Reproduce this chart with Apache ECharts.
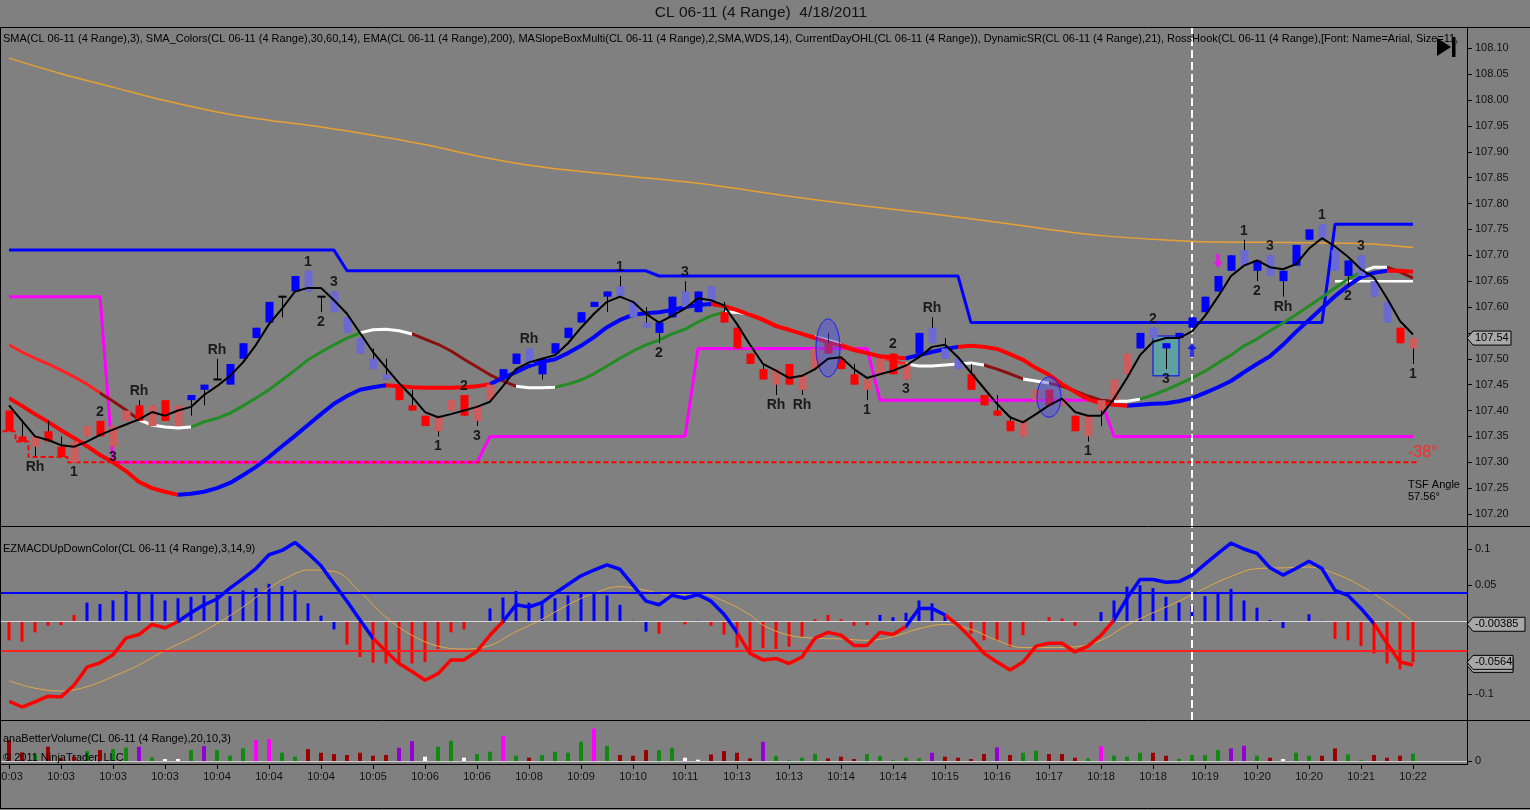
<!DOCTYPE html>
<html><head><meta charset="utf-8">
<script src="https://cdn.jsdelivr.net/npm/echarts@6/dist/echarts.min.js"></script>
<style>html,body{margin:0;padding:0;background:#808080;overflow:hidden}#c{width:1530px;height:810px}</style>
</head><body><div id="c"></div>
<script>
// ---------------- DATA ----------------
const timeLabels = ['10:03','10:03','10:03','10:03','10:04','10:04','10:04','10:05','10:06','10:06','10:08','10:09','10:10','10:11','10:13','10:13','10:14','10:14','10:15','10:16','10:17','10:18','10:18','10:19','10:20','10:20','10:21','10:22'];
const priceTicks = [107.20,107.25,107.30,107.35,107.40,107.45,107.50,107.55,107.60,107.65,107.70,107.75,107.80,107.85,107.90,107.95,108.00,108.05,108.10];
const priceLabels = [107.20,107.25,107.30,107.35,107.40,107.45,107.50,107.60,107.65,107.70,107.75,107.80,107.85,107.90,107.95,108.00,108.05,108.10];
const macdTicks = [0.1,0.05,-0.1];

const barOpen = [107.40,107.35,107.33,107.36,107.33,107.30,107.35,107.38,107.33,107.38,
 107.41,107.37,107.42,107.37,107.42,107.44,107.46,107.45,107.50,107.54,
 107.57,107.62,107.63,107.67,107.62,107.63,107.58,107.54,107.50,107.47,
 107.45,107.41,107.39,107.36,107.40,107.43,107.38,107.42,107.46,107.49,
 107.52,107.47,107.51,107.54,107.57,107.60,107.62,107.64,107.61,107.57,
 107.55,107.58,107.63,107.59,107.64,107.59,107.56,107.51,107.48,107.45,
 107.49,107.44,107.48,107.53,107.50,107.47,107.44,107.47,107.51,107.46,
 107.51,107.56,107.52,107.50,107.47,107.43,107.40,107.38,107.35,107.42,
 107.44,107.41,107.39,107.35,107.40,107.42,107.47,107.52,107.56,107.52,
 107.54,107.56,107.59,107.63,107.67,107.71,107.67,107.70,107.65,107.68,
 107.73,107.76,107.71,107.66,107.70,107.65,107.61,107.56,107.52];
const barClose = [107.36,107.34,107.35,107.34,107.31,107.34,107.37,107.35,107.37,107.40,
 107.38,107.41,107.38,107.41,107.43,107.45,107.46,107.49,107.53,107.56,
 107.61,107.62,107.66,107.63,107.62,107.59,107.55,107.51,107.48,107.46,
 107.42,107.40,107.37,107.39,107.42,107.39,107.41,107.45,107.48,107.51,
 107.49,107.50,107.53,107.56,107.59,107.61,107.63,107.62,107.58,107.56,
 107.57,107.62,107.60,107.63,107.61,107.57,107.52,107.49,107.46,107.48,
 107.45,107.47,107.52,107.51,107.48,107.45,107.46,107.50,107.47,107.49,
 107.55,107.53,107.50,107.48,107.44,107.41,107.39,107.36,107.38,107.44,
 107.41,107.42,107.36,107.39,107.42,107.46,107.51,107.55,107.54,107.53,
 107.55,107.58,107.62,107.66,107.70,107.68,107.69,107.66,107.67,107.72,
 107.75,107.73,107.67,107.69,107.66,107.62,107.57,107.53,107.54];
const barLow = [107.36,107.34,107.31,107.34,107.31,107.30,107.35,107.35,107.33,107.38,
 107.38,107.37,107.38,107.37,107.39,107.41,107.46,107.45,107.50,107.54,
 107.57,107.58,107.63,107.63,107.59,107.59,107.55,107.51,107.48,107.46,
 107.42,107.40,107.37,107.35,107.40,107.39,107.37,107.42,107.46,107.49,
 107.49,107.46,107.51,107.54,107.57,107.60,107.59,107.62,107.58,107.56,
 107.53,107.58,107.60,107.59,107.61,107.57,107.52,107.49,107.46,107.43,
 107.45,107.43,107.48,107.51,107.48,107.45,107.42,107.47,107.47,107.46,
 107.51,107.53,107.50,107.48,107.44,107.41,107.39,107.36,107.35,107.42,
 107.41,107.41,107.36,107.34,107.37,107.42,107.47,107.52,107.54,107.48,
 107.54,107.56,107.59,107.63,107.67,107.68,107.65,107.66,107.62,107.68,
 107.73,107.73,107.67,107.64,107.66,107.62,107.57,107.53,107.49];
const barHigh = [107.40,107.38,107.35,107.38,107.35,107.34,107.37,107.38,107.37,107.40,
 107.42,107.41,107.42,107.41,107.43,107.45,107.50,107.49,107.53,107.56,
 107.61,107.62,107.66,107.67,107.62,107.63,107.58,107.54,107.52,107.50,
 107.45,107.44,107.39,107.39,107.42,107.43,107.41,107.45,107.48,107.51,
 107.52,107.50,107.53,107.56,107.59,107.61,107.63,107.66,107.61,107.60,
 107.57,107.62,107.65,107.63,107.64,107.61,107.56,107.51,107.49,107.48,
 107.49,107.47,107.52,107.55,107.50,107.49,107.46,107.50,107.51,107.49,
 107.55,107.58,107.54,107.50,107.49,107.43,107.43,107.39,107.38,107.44,
 107.44,107.42,107.39,107.39,107.42,107.46,107.51,107.55,107.56,107.53,
 107.55,107.58,107.62,107.66,107.70,107.73,107.69,107.70,107.67,107.72,
 107.75,107.76,107.71,107.69,107.70,107.65,107.61,107.56,107.54];
// B = up bar in uptrend, b = down bar in uptrend, R = down bar in downtrend, r = up bar in downtrend
const barState = 'RRrRRrrRrrRrRr' + 'BBBBBBBBB' + 'bbbbbbb' + 'RRRrrRrr' + 'BBbBBBBBBbbbBBbBb' +
                 'RRRRrRrrRRRrrRr' + 'Bbbb' + 'RRRRrrRrRrrrr' + 'BbBBBBBBbBbBBBbbBbbb' + 'Rr';

const sma3 = [107.41,107.38,107.350,107.343,107.333,107.330,107.340,107.353,107.363,107.373,
 107.383,107.397,107.390,107.400,107.407,107.430,107.447,107.467,107.493,107.527,
 107.567,107.597,107.630,107.637,107.637,107.613,107.587,107.550,107.513,107.483,
 107.453,107.427,107.397,107.387,107.393,107.400,107.407,107.417,107.447,107.480,
 107.493,107.500,107.507,107.530,107.560,107.587,107.610,107.620,107.610,107.587,
 107.570,107.583,107.597,107.617,107.613,107.603,107.567,107.527,107.490,107.477,
 107.463,107.467,107.480,107.500,107.503,107.480,107.463,107.470,107.477,107.487,
 107.503,107.523,107.527,107.503,107.473,107.443,107.413,107.387,107.377,107.393,
 107.410,107.423,107.397,107.390,107.390,107.423,107.463,107.507,107.533,107.540,
 107.540,107.553,107.583,107.620,107.660,107.680,107.690,107.677,107.673,107.683,
 107.713,107.733,107.717,107.697,107.673,107.657,107.617,107.573,107.547];

const smaFast = [107.527,107.513,107.501,107.490,107.478,107.465,107.451,107.434,107.418,107.401,
 107.382,107.372,107.368,107.366,107.368,107.378,107.385,107.395,107.409,107.424,
 107.440,107.459,107.478,107.498,107.513,107.527,107.540,107.550,107.556,107.557,
 107.554,107.548,107.538,107.528,107.515,107.499,107.484,107.469,107.457,107.447,
 107.444,107.444,107.445,107.451,107.459,107.471,107.486,107.501,107.515,107.527,
 107.536,107.548,107.557,107.571,107.583,107.590,107.590,107.586,107.577,107.565,
 107.556,107.548,107.542,107.536,107.528,107.519,107.511,107.503,107.496,107.490,
 107.486,107.486,107.488,107.490,107.492,107.488,107.480,107.471,107.461,107.457,
 107.453,107.447,107.438,107.428,107.420,107.418,107.418,107.422,107.430,107.440,
 107.451,107.463,107.476,107.492,107.507,107.525,107.538,107.554,107.569,107.585,
 107.602,107.619,107.637,107.654,107.668,107.677,107.677,107.668,107.656];
const smaSlow = [107.424,107.409,107.393,107.378,107.362,107.347,107.331,107.314,107.300,107.283,
 107.262,107.250,107.243,107.237,107.239,107.243,107.250,107.260,107.275,107.291,
 107.310,107.331,107.351,107.372,107.393,107.413,107.428,107.440,107.445,107.449,
 107.447,107.445,107.444,107.444,107.444,107.445,107.447,107.451,107.463,107.474,
 107.486,107.494,107.499,107.511,107.525,107.542,107.561,107.575,107.585,107.588,
 107.590,107.594,107.600,107.604,107.606,107.602,107.594,107.585,107.575,107.563,
 107.556,107.548,107.540,107.532,107.525,107.517,107.511,107.505,107.503,107.501,
 107.507,107.513,107.519,107.523,107.525,107.523,107.519,107.509,107.498,107.482,
 107.469,107.451,107.436,107.422,107.414,107.411,107.409,107.411,107.413,107.414,
 107.418,107.424,107.434,107.445,107.457,107.474,107.490,107.505,107.527,107.552,
 107.575,107.598,107.621,107.641,107.658,107.666,107.670,107.670,107.668];
// colour state segments [fromBar, toBar, state]
const smaFastSegments = [[0,7,'dn'],[7,10,'dnSlow'],[10,14,'flat'],[14,27,'up'],[27,31,'flat'],[31,39,'dnSlow'],[39,42,'flat'],[42,55,'up'],[55,57,'flat'],[57,62,'dn'],[62,64,'flat'],[64,69,'dn'],[69,75,'flat'],[75,78,'dnSlow'],[78,80,'flat'],[80,85,'dnSlow'],[85,87,'flat'],[87,104,'up'],[104,106,'flat'],[106,120,'dnSlow']];
const smaSlowSegments = [[0,13,'dn'],[13,29,'up'],[29,37,'dn'],[37,54,'up'],[54,69,'dn'],[69,73,'up'],[73,86,'dn'],[86,106,'up'],[106,120,'dn']];

const ema200 = [[0,108.081],[4,108.051],[8,108.025],[12,107.999],[16,107.977],[20,107.961],[24,107.948],[28,107.932],[32,107.914],[36,107.892],[40,107.874],[44,107.862],[48,107.852],[52,107.842],[56,107.829],[60,107.814],[64,107.801],[68,107.789],[72,107.777],[76,107.764],[80,107.750],[84,107.738],[88,107.731],[92,107.726],[96,107.725],[100,107.724],[104,107.723],[108,107.715]];

// [fromBar, toBar, price]
const resistanceLevels = [[0,25,107.71],[26,49,107.67],[50,73,107.66],[74,101,107.57],[102,108,107.76]];
const supportLevels = [[0,7,107.62],[8,36,107.30],[37,52,107.35],[53,66,107.52],[67,84,107.42],[85,108,107.35]];
const dayLowLevels = [[0,0,107.36],[1,1,107.34],[2,4,107.31],[5,108,107.30]];
const slopeBoxLevels = [[102,108,107.65]];

const hookLabels = [[2,'Rh','below'],[5,'1','below'],[7,'2','above'],[8,'3','below'],[10,'Rh','above'],[16,'Rh','above'],[23,'1','above'],[24,'2','below'],[25,'3','above'],[33,'1','below'],[35,'2','above'],[36,'3','below'],[40,'Rh','above'],[47,'1','above'],[50,'2','below'],[52,'3','above'],[59,'Rh','below'],[61,'Rh','below'],[66,'1','below'],[68,'2','above'],[69,'3','below'],[71,'Rh','above'],[83,'1','below'],[88,'2','above'],[89,'3','below'],[95,'1','above'],[96,'2','below'],[97,'3','above'],[98,'Rh','below'],[101,'1','above'],[103,'2','below'],[104,'3','above'],[108,'1','below']];
const ellipseMarks = [[63,107.521,0.056],[80,107.426,0.039]]; // bar, centre price, half height (price)
const boxRange = [88,90,107.467,107.544];
const arrowMarks = [[91,107.517,'up'],[93,107.689,'down']];
const cursorBar = 91;
const lastPrice = 107.54;

const macdHist = [-0.026,-0.028,-0.015,-0.006,-0.005,0.009,0.026,0.024,0.029,0.042,
 0.039,0.040,0.029,0.032,0.034,0.036,0.037,0.035,0.043,0.046,
 0.052,0.049,0.043,0.025,0.008,-0.011,-0.032,-0.049,-0.057,-0.058,
 -0.056,-0.058,-0.056,-0.038,-0.015,-0.011,0,0.018,0.033,0.042,
 0.026,0.027,0.032,0.036,0.039,0.039,0.036,0.023,0.001,-0.014,
 -0.017,-0.001,-0.004,0.001,-0.006,-0.018,-0.036,-0.046,-0.037,-0.038,
 -0.035,-0.021,0.003,0.009,0.003,-0.006,-0.005,0.009,0.006,0.012,
 0.029,0.025,0.011,0.001,-0.017,-0.026,-0.027,-0.035,-0.019,0.001,
 0.006,0.004,-0.006,0.001,0.013,0.029,0.048,0.050,0.046,0.034,
 0.026,0.022,0.035,0.040,0.045,0.029,0.019,0.002,-0.009,0,
 0.010,0.001,-0.024,-0.026,-0.034,-0.044,-0.058,-0.066,-0.056];
const histState = 'RRRRRR' + 'BBBBBBBBBBBBBBBBBBBB' + 'RRRRRRRRRRR' + 'BBBBBBBBBBBBB' + 'RBRB' +
                  'RRRRRRRRRRRRR' + 'BBBBBBB' + 'RRRRRRRRRR' + 'BBBBBBBBBBBBBBBBBB' + 'RRRRRRR';
const macdLine = [-0.110,-0.118,-0.111,-0.103,-0.104,-0.088,-0.063,-0.057,-0.046,-0.023,
 -0.018,-0.004,-0.009,0.000,0.012,0.023,0.031,0.046,0.059,0.073,
 0.092,0.098,0.109,0.094,0.077,0.052,0.028,0.002,-0.023,-0.041,
 -0.058,-0.069,-0.081,-0.072,-0.053,-0.053,-0.041,-0.019,0.000,0.023,
 0.020,0.026,0.039,0.051,0.063,0.071,0.078,0.072,0.050,0.028,
 0.023,0.036,0.032,0.037,0.028,0.010,-0.015,-0.044,-0.053,-0.051,
 -0.058,-0.049,-0.023,-0.015,-0.019,-0.033,-0.033,-0.015,-0.018,-0.007,
 0.018,0.018,0.009,-0.005,-0.023,-0.044,-0.056,-0.067,-0.056,-0.034,
 -0.030,-0.030,-0.042,-0.034,-0.019,0.002,0.032,0.058,0.058,0.054,
 0.055,0.064,0.079,0.094,0.108,0.100,0.094,0.074,0.064,0.073,
 0.083,0.073,0.043,0.036,0.018,-0.003,-0.030,-0.056,-0.060];
const macdSegments = [[0,13,'dn'],[13,28,'up'],[28,38,'dn'],[38,56,'up'],[56,69,'dn'],[69,72,'up'],[72,85,'dn'],[85,105,'up'],[105,120,'dn']];
const macdSignal = [[0,-0.082],[2,-0.092],[4,-0.096],[6,-0.090],[8,-0.076],[10,-0.060],[12,-0.040],[14,-0.023],[16,-0.003],[18,0.020],[20,0.046],[22,0.066],[23,0.071],[25,0.069],[27,0.041],[29,0.006],[31,-0.019],[33,-0.034],[35,-0.038],[37,-0.033],[39,-0.014],[41,0.003],[43,0.023],[45,0.039],[47,0.048],[49,0.043],[51,0.036],[53,0.039],[55,0.028],[57,0.009],[58,-0.005],[60,-0.019],[62,-0.023],[64,-0.024],[66,-0.026],[68,-0.021],[70,-0.010],[72,-0.004],[74,-0.011],[76,-0.026],[78,-0.036],[80,-0.036],[82,-0.035],[84,-0.026],[86,-0.005],[88,0.012],[90,0.028],[92,0.046],[94,0.062],[96,0.073],[98,0.074],[100,0.075],[102,0.066],[104,0.049],[106,0.026],[108,0.000]];
const macdLevels = [0.04,-0.04];
const macdValueLabels = [-0.00385,-0.0564];

const volumes = [630,260,200,430,80,130,300,330,360,400,
 430,100,60,60,330,450,330,160,380,630,
 660,250,130,360,250,210,180,250,160,180,
 400,600,130,430,610,100,210,280,760,160,
 100,180,280,250,580,980,460,180,160,330,
 330,400,100,40,200,300,250,80,580,160,
 20,100,220,80,130,60,210,160,20,100,
 80,250,130,100,60,210,410,180,250,310,
 210,210,100,80,450,160,130,250,250,160,
 60,180,180,330,380,460,160,100,60,250,
 160,160,380,200,20,180,100,160,220];
// r = down, g = up, p = climax/churn, m = high volume, w = low volume
const volState = 'rrgrrrgrgg' + 'pgwwgpgggm' + 'mggrrrrrrr' + 'ppwggwggmg' + 'rggggmgrrr' +
                 'ggwwrrrrpg' + 'gggrrrgggg' + 'gprrrrprgg' + 'rrrgmgggrr' + 'ggggppgrwg' + 'grrggrrrg';

// ---------------- STYLE ----------------
const FONT = '"Liberation Sans", Arial, sans-serif';
const candleColor = {B:'#0000ff', b:'#6a6ad2', R:'#ff0000', r:'#cd5c5c'};
const fastColor = {dn:'#ff2020', dnSlow:'#8b1010', flat:'#ffffff', up:'#228b22'};
const slowColor = {dn:'#ff0000', up:'#0000ff'};
const histColor = {R:'#ff0000', B:'#0000ff'};
const volColor = {r:'#990000', g:'#118811', p:'#9400d3', m:'#ff00ff', w:'#ffffff'};

const XMIN = -0.615, XMAX = 112.154;

function levelsToPoints(levels, half) {
  const pts = [];
  levels.forEach(([s, e, p]) => {
    pts.push([half ? s - 0.5 : s, p]);
    pts.push([half ? e + 0.5 : e, p]);
  });
  return pts;
}
function segPieces(segs, colors) {
  return segs.map(([a, b, st]) => ({gte: a, lt: b, color: colors[st]}));
}

const idx = barOpen.map((_, i) => i);
const candleData = idx.map(i => [i, barOpen[i], barClose[i], barLow[i], barHigh[i]]);
const tickIdx = timeLabels.map((_, k) => 4 * k);

function renderCandle(params, api) {
  const i = api.value(0);
  const o = api.value(1), c = api.value(2), l = api.value(3), h = api.value(4);
  const pO = api.coord([i, o]), pC = api.coord([i, c]), pL = api.coord([i, l]), pH = api.coord([i, h]);
  const x = Math.round(pO[0]) + 0.5;
  const w = 8;
  const ch = [];
  if (Math.abs(pL[1] - pH[1]) > 0.5) {
    ch.push({type:'line', shape:{x1:x, y1:pH[1], x2:x, y2:pL[1]}, style:{stroke:'#000', lineWidth:1}});
  }
  const top = Math.min(pO[1], pC[1]), bot = Math.max(pO[1], pC[1]);
  if (bot - top < 1.5) {
    ch.push({type:'rect', shape:{x:x - w/2, y:top - 1, width:w, height:2}, style:{fill:'#000'}});
  } else {
    ch.push({type:'rect', shape:{x:x - w/2, y:top, width:w, height:bot - top}, style:{fill:candleColor[barState[i]]}});
  }
  return {type:'group', children:ch};
}
function renderEllipse(params, api) {
  const c = api.coord([api.value(0), api.value(1)]);
  const t = api.coord([api.value(0), api.value(1) + api.value(2)]);
  const ry = c[1] - t[1], rx = 12;
  const pts = [];
  for (let k = 0; k < 48; k++) {
    const a = k / 48 * Math.PI * 2;
    pts.push([c[0] + rx * Math.cos(a), c[1] + ry * Math.sin(a)]);
  }
  return {type:'polygon', shape:{points:pts}, style:{fill:'rgba(80,80,235,0.45)', stroke:'#1a1aff', lineWidth:1}};
}

const chart = echarts.init(document.getElementById('c'), null, {renderer:'canvas', width:1530, height:810});

const grids = [
  {left:1, right:63, top:27, height:499, outerBoundsMode:'none', containLabel:false},
  {left:1, right:63, top:526, height:194, outerBoundsMode:'none', containLabel:false},
  {left:1, right:63, top:720, height:44, outerBoundsMode:'none', containLabel:false}
];
const xAxes = [0,1].map(g => ({type:'value', gridIndex:g, min:XMIN, max:XMAX, show:false}));
xAxes.push({type:'value', gridIndex:2, min:XMIN, max:XMAX, position:'bottom',
  axisLine:{show:true, onZero:false, lineStyle:{color:'#000', width:1}},
  axisTick:{show:true, customValues:tickIdx, length:5, lineStyle:{color:'#000'}},
  axisLabel:{show:true, customValues:tickIdx, formatter:v => timeLabels[Math.round(v/4)], color:'#111', fontSize:11, fontFamily:FONT, margin:7},
  splitLine:{show:false}});

function yAxisDef(g, min, max, ticks, labels, fmt) {
  return {type:'value', gridIndex:g, position:'right', min:min, max:max,
    axisLine:{show:true, onZero:false, lineStyle:{color:'#000', width:1}},
    axisTick:{show:true, customValues:ticks, length:5, lineStyle:{color:'#000'}},
    axisLabel:{customValues:labels, formatter:fmt, color:'#111', fontSize:11, fontFamily:FONT, margin:8},
    splitLine:{show:false}};
}
const yAxes = [
  yAxisDef(0, 107.1768, 108.1412, priceTicks, priceLabels, v => v.toFixed(2)),
  yAxisDef(1, -0.1359, 0.1317, macdTicks, macdTicks, v => String(v)),
  yAxisDef(2, -90, 1236, [0], [0], v => String(v))
];

const series = [
  // 0 EMA 200
  {type:'line', xAxisIndex:0, yAxisIndex:0, data:ema200, smooth:0.3, symbol:'none', lineStyle:{color:'#e8a030', width:1.5}, silent:true, z:2},
  // 1 resistance
  {type:'line', xAxisIndex:0, yAxisIndex:0, data:levelsToPoints(resistanceLevels,false), symbol:'none', lineStyle:{color:'#0000ff', width:3}, silent:true, z:2},
  // 2 support
  {type:'line', xAxisIndex:0, yAxisIndex:0, data:levelsToPoints(supportLevels,false), symbol:'none', lineStyle:{color:'#ff00ff', width:3}, silent:true, z:2},
  // 3 current day low
  {type:'line', xAxisIndex:0, yAxisIndex:0, data:levelsToPoints(dayLowLevels,true), symbol:'none', lineStyle:{color:'#ff0000', width:2, type:[5,3]}, silent:true, z:3},
  // 4 slope box level + box
  {type:'line', xAxisIndex:0, yAxisIndex:0, data:levelsToPoints(slopeBoxLevels,false), symbol:'none', lineStyle:{color:'#ffffff', width:2.5}, silent:true, z:3,
    markArea:{silent:true, itemStyle:{color:'rgba(73,181,181,0.6)', borderColor:'#0000ff', borderWidth:1},
      data:[[{xAxis:boxRange[0], yAxis:boxRange[2]}, {xAxis:boxRange[1], yAxis:boxRange[3]}]]}},
  // 5 fast SMA colours
  {type:'line', xAxisIndex:0, yAxisIndex:0, data:idx.map(i => [i, smaFast[i]]), symbol:'none', lineStyle:{width:3}, silent:true, z:4},
  // 6 slow SMA colours
  {type:'line', xAxisIndex:0, yAxisIndex:0, data:idx.map(i => [i, smaSlow[i]]), symbol:'none', lineStyle:{width:4}, silent:true, z:4},
  // 7 candles
  {type:'custom', xAxisIndex:0, yAxisIndex:0, data:candleData, renderItem:renderCandle, encode:{x:0, y:[1,2,3,4]}, clip:true, silent:true, z:6},
  // 8 ellipses
  {type:'custom', xAxisIndex:0, yAxisIndex:0, data:ellipseMarks, renderItem:renderEllipse, encode:{x:0, y:1}, silent:true, z:7},
  // 9 SMA 3 + cursor line
  {type:'line', xAxisIndex:0, yAxisIndex:0, data:idx.map(i => [i, sma3[i]]), symbol:'none', lineStyle:{color:'#000', width:2}, silent:true, z:8,
    markLine:{silent:true, symbol:'none', label:{show:false}, lineStyle:{color:'#ffffff', type:[8,4], width:2}, data:[{xAxis:cursorBar}]}},
  // 10 RossHook labels
  {type:'scatter', xAxisIndex:0, yAxisIndex:0, symbol:'circle', symbolSize:0.1, itemStyle:{color:'rgba(0,0,0,0)'}, silent:true, z:9,
    label:{show:true, color:'#000', fontSize:14, fontWeight:'bold', fontFamily:FONT},
    data:hookLabels.map(([i, t, side]) => ({value:[i, side === 'above' ? barHigh[i] : barLow[i]],
      label:{position: side === 'above' ? 'top' : 'bottom', distance: side === 'above' ? 2 : 3, formatter:t}}))},
  // 11 arrows
  {type:'scatter', xAxisIndex:0, yAxisIndex:0, silent:true, z:9,
    data:arrowMarks.map(([i, p, d]) => ({value:[i, p], symbol:'path://M5,0L10,6L7,6L7,14L3,14L3,6L0,6Z', symbolSize:[9,14],
      symbolRotate: d === 'up' ? 0 : 180, itemStyle:{color: d === 'up' ? '#0000ff' : '#ff00ff'}}))},
  // 12 MACD histogram
  {type:'bar', xAxisIndex:1, yAxisIndex:1, barWidth:3, silent:true, z:2,
    data:idx.map(i => ({value:[i, macdHist[i]], itemStyle:{color:histColor[histState[i]]}}))},
  // 13 signal + levels
  {type:'line', xAxisIndex:1, yAxisIndex:1, data:macdSignal, smooth:0.4, symbol:'none', lineStyle:{color:'#e0a848', width:1}, silent:true, z:4,
    markLine:{silent:true, symbol:'none', label:{show:false}, data:[
      {yAxis:0, lineStyle:{color:'#d8d8d8', width:1, type:'solid'}},
      {yAxis:macdLevels[0], lineStyle:{color:'#0000ff', width:2, type:'solid'}},
      {yAxis:macdLevels[1], lineStyle:{color:'#ff2020', width:2, type:'solid'}},
      {xAxis:cursorBar, lineStyle:{color:'#ffffff', width:2, type:[8,4]}}]}},
  // 14 MACD line
  {type:'line', xAxisIndex:1, yAxisIndex:1, data:idx.map(i => [i, macdLine[i]]), symbol:'none', lineStyle:{width:3.5}, silent:true, z:5},
  // 15 volume
  {type:'bar', xAxisIndex:2, yAxisIndex:2, barWidth:4, silent:true, z:3,
    data:idx.map(i => ({value:[i, volumes[i]], itemStyle:{color:volColor[volState[i]]}})),
    markLine:{silent:true, symbol:'none', label:{show:false}, data:[{yAxis:0, lineStyle:{color:'#d0d0d0', width:1, type:'solid'}}]}}
];

const visualMap = [
  {type:'piecewise', show:false, dimension:0, seriesIndex:5, pieces:segPieces(smaFastSegments, fastColor)},
  {type:'piecewise', show:false, dimension:0, seriesIndex:6, pieces:segPieces(smaSlowSegments, slowColor)},
  {type:'piecewise', show:false, dimension:0, seriesIndex:14, pieces:segPieces(macdSegments, slowColor)}
];

chart.setOption({
  animation:false,
  backgroundColor:'#808080',
  textStyle:{fontFamily:FONT},
  grid:grids, xAxis:xAxes, yAxis:yAxes, series:series, visualMap:visualMap
});

// ---------- overlay texts, borders and value boxes ----------
function txt(x, y, text, size, color, extra) {
  return Object.assign({type:'text', x:x, y:y, z:100, silent:true,
    style:Object.assign({text:text, font:size + 'px ' + FONT, fill:color, align:'left', verticalAlign:'middle'}, extra || {})});
}
function hline(y, x1, x2) { return {type:'line', z:99, silent:true, shape:{x1:x1, y1:y, x2:x2, y2:y}, style:{stroke:'#000', lineWidth:1}}; }
function boxShape(y, w, z) {
  const x0 = 1467;
  return {type:'polygon', z:z, silent:true, shape:{points:[[x0, y], [x0 + 6, y - 7], [x0 + w, y - 7], [x0 + w, y + 7], [x0 + 6, y + 7]]},
    style:{fill:'#a8a8a8', stroke:'#000', lineWidth:1}};
}
function valueBox(y, text, w) {
  return [boxShape(y, w, 110),
    {type:'text', z:111, silent:true, x:1475, y:y, style:{text:text, font:'11px ' + FONT, fill:'#000', align:'left', verticalAlign:'middle'}}];
}
const yLast = chart.convertToPixel({yAxisIndex:0}, lastPrice);
const yV1 = chart.convertToPixel({yAxisIndex:1}, macdValueLabels[0]);
const yV2 = chart.convertToPixel({yAxisIndex:1}, macdValueLabels[1]);

const g = [
  hline(27.5, 0, 1530), hline(526.5, 0, 1530), hline(720.5, 0, 1530), hline(764.5, 0, 1467), hline(808.5, 0, 1530),
  {type:'line', z:99, silent:true, shape:{x1:0.5, y1:27, x2:0.5, y2:809}, style:{stroke:'#000', lineWidth:1}},
  {type:'line', z:99, silent:true, shape:{x1:1467.5, y1:27, x2:1467.5, y2:765}, style:{stroke:'#000', lineWidth:1}},
  txt(761, 13, 'CL 06-11 (4 Range)  4/18/2011', 15.5, '#111', {align:'center'}),
  txt(3, 39, 'SMA(CL 06-11 (4 Range),3), SMA_Colors(CL 06-11 (4 Range),30,60,14), EMA(CL 06-11 (4 Range),200), MASlopeBoxMulti(CL 06-11 (4 Range),2,SMA,WDS,14), CurrentDayOHL(CL 06-11 (4 Range)), DynamicSR(CL 06-11 (4 Range),21), RossHook(CL 06-11 (4 Range),[Font: Name=Arial, Size=11, Style=Bold],1,0,3)', 11, '#000', {width:1462, overflow:'truncate', ellipsis:''}),
  txt(3, 549, 'EZMACDUpDownColor(CL 06-11 (4 Range),3,14,9)', 11, '#000'),
  txt(3, 739, 'anaBetterVolume(CL 06-11 (4 Range),20,10,3)', 11, '#000'),
  txt(3, 758, '\u00a9 2011 NinjaTrader, LLC', 11, '#000'),
  txt(1408, 453, '-38\u00b0', 16, '#ff2a2a'),
  txt(1408, 485, 'TSF Angle', 11, '#000'),
  txt(1408, 497, '57.56\u00b0', 11, '#000'),
  {type:'polygon', z:105, silent:true, shape:{points:[[1437,38],[1437,56],[1451,47]]}, style:{fill:'#000'}},
  {type:'rect', z:105, silent:true, shape:{x:1452, y:37, width:3.5, height:20}, style:{fill:'#000'}},
  boxShape(yV2 + 3, 46, 108)
].concat(valueBox(yLast, lastPrice.toFixed(2), 44))
 .concat(valueBox(yV1, String(macdValueLabels[0]), 58))
 .concat(valueBox(yV2, String(macdValueLabels[1]), 46));

chart.setOption({graphic:g});
</script>
</body></html>
